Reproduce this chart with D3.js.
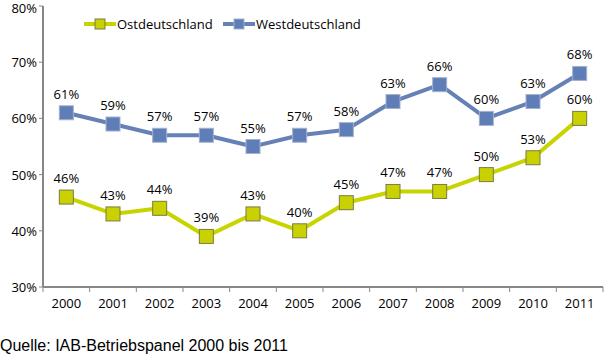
<!DOCTYPE html>
<html>
<head>
<meta charset="utf-8">
<script src="https://cdn.jsdelivr.net/npm/d3@7"></script>
<style>
body { margin: 0; background: #fff; }
svg text { font-family: "Open Sans", "DejaVu Sans", sans-serif; fill: #000; }
.source { font-family: "Liberation Sans", Arial, sans-serif; }
</style>
</head>
<body>
<div id="chart"></div>
<script>
const years = ["2000","2001","2002","2003","2004","2005","2006","2007","2008","2009","2010","2011"];
const ost = [46, 43, 44, 39, 43, 40, 45, 47, 47, 50, 53, 60];
const west = [61, 59, 57, 57, 55, 57, 58, 63, 66, 60, 63, 68];
const yTicks = [30, 40, 50, 60, 70, 80];

(function() {

const w = 605, h = 355;
const plotLeft = 43, plotRight = 603, plotTop = 6, plotBottom = 287;

const svg = d3.select("#chart").append("svg")
    .attr("width", w).attr("height", h);

const x = d3.scaleBand().domain(years).range([plotLeft, plotRight]);
const y = d3.scaleLinear().domain([30, 80]).range([plotBottom, plotTop]);

// y axis
svg.append("line")
    .attr("x1", plotLeft).attr("x2", plotLeft)
    .attr("y1", y(80)).attr("y2", plotBottom)
    .attr("stroke", "#878787").attr("stroke-width", 2);
svg.selectAll("line.yt").data(yTicks).enter().append("line")
    .attr("x1", plotLeft - 4).attr("x2", plotLeft)
    .attr("y1", d => y(d)).attr("y2", d => y(d))
    .attr("stroke", "#878787").attr("stroke-width", 1);
svg.selectAll("text.yl").data(yTicks).enter().append("text")
    .attr("x", plotLeft - 6).attr("y", d => Math.max(y(d) + 5, 13))
    .attr("text-anchor", "end").attr("font-size", 13)
    .text(d => d + "%");

// x axis
svg.append("line")
    .attr("x1", plotLeft).attr("x2", plotRight)
    .attr("y1", plotBottom).attr("y2", plotBottom)
    .attr("stroke", "#878787").attr("stroke-width", 2);
svg.selectAll("line.xt").data(years.concat(["end"])).enter().append("line")
    .attr("x1", (d, i) => plotLeft + i * x.bandwidth())
    .attr("x2", (d, i) => plotLeft + i * x.bandwidth())
    .attr("y1", plotBottom).attr("y2", plotBottom + 5)
    .attr("stroke", "#878787").attr("stroke-width", 1);
svg.selectAll("text.xl").data(years).enter().append("text")
    .attr("x", d => x(d) + x.bandwidth() / 2).attr("y", plotBottom + 21)
    .attr("text-anchor", "middle").attr("font-size", 13)
    .text(d => d);

const series = [
    { name: "Ostdeutschland", values: ost, line: "#c8d400", fill: "#c9d200", stroke: "#7b7b45" },
    { name: "Westdeutschland", values: west, line: "#6681b5", fill: "#5f7db6", stroke: "#a3b1cf" }
];

const line = d3.line()
    .x((d, i) => x(years[i]) + x.bandwidth() / 2)
    .y(d => y(d));

series.forEach(s => {
    svg.append("path")
        .attr("d", line(s.values))
        .attr("fill", "none")
        .attr("stroke", s.line).attr("stroke-width", 4)
        .attr("stroke-linejoin", "round");
    svg.selectAll(null).data(s.values).enter().append("rect")
        .attr("x", (d, i) => x(years[i]) + x.bandwidth() / 2 - 7)
        .attr("y", d => y(d) - 7)
        .attr("width", 14).attr("height", 14)
        .attr("fill", s.fill).attr("stroke", s.stroke).attr("stroke-width", 1);
    svg.selectAll(null).data(s.values).enter().append("text")
        .attr("x", (d, i) => x(years[i]) + x.bandwidth() / 2)
        .attr("y", d => y(d) - 14)
        .attr("text-anchor", "middle").attr("font-size", 13)
        .text(d => d + "%");
});

// legend
const legendPos = [{ x: 84, tx: 117 }, { x: 223, tx: 256 }];
series.forEach((s, i) => {
    const lx = legendPos[i].x, ly = 24;
    svg.append("line")
        .attr("x1", lx).attr("x2", lx + 32)
        .attr("y1", ly).attr("y2", ly)
        .attr("stroke", s.line).attr("stroke-width", 4);
    svg.append("rect")
        .attr("x", lx + 11).attr("y", ly - 5)
        .attr("width", 10).attr("height", 10)
        .attr("fill", s.fill).attr("stroke", s.stroke);
    svg.append("text")
        .attr("x", legendPos[i].tx).attr("y", ly + 5)
        .attr("font-size", 13)
        .text(s.name);
});

svg.append("text")
    .attr("class", "source")
    .attr("x", 0).attr("y", 351)
    .attr("font-size", 16)
    .text("Quelle: IAB-Betriebspanel 2000 bis 2011");

})();
</script>
</body>
</html>
